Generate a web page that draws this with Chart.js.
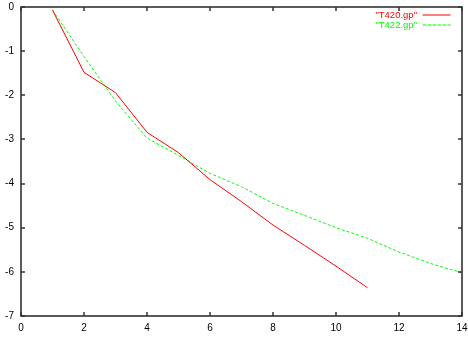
<!DOCTYPE html>
<html>
<head>
<meta charset="utf-8">
<script src="https://cdn.jsdelivr.net/npm/chart.js@4"></script>
<style>
  html, body { margin: 0; padding: 0; background: #fff; }
  #wrap { width: 468px; height: 340px; }
</style>
</head>
<body>
<div id="wrap"><canvas id="chart"></canvas></div>
<script>
const xValues = [1, 2, 3, 4, 5, 6, 7, 8, 9, 10, 11, 12, 13, 14];
const t420 = [-0.07, -1.48, -1.94, -2.84, -3.3, -3.91, -4.41, -4.94, -5.4, -5.87, -6.36];
const t422 = [-0.07, -1.12, -2.13, -2.97, -3.36, -3.77, -4.07, -4.45, -4.72, -5.0, -5.24, -5.55, -5.81, -6.02];
const seriesNames = ['"T420.gp"', '"T422.gp"'];
const xTicks = [0, 2, 4, 6, 8, 10, 12, 14];
const yTicks = [0, -1, -2, -3, -4, -5, -6, -7];

const font = { family: 'Liberation Sans', size: 10 };

function toPoints(ys) {
  return ys.map((y, i) => ({ x: xValues[i], y: y }));
}

// gnuplot look: boxed plot, small inward ticks on every side, key top right
const frame = {
  id: 'frame',
  afterDraw(chart) {
    const ctx = chart.ctx;
    const a = chart.chartArea;
    const sx = chart.scales.x, sy = chart.scales.y;
    const L = Math.round(a.left), R = Math.round(a.right);
    const T = Math.round(a.top), B = Math.round(a.bottom);
    const len = 4;
    ctx.save();
    ctx.setLineDash([]);
    ctx.strokeStyle = '#333333';
    ctx.lineWidth = 1.6;
    ctx.strokeRect(L, T, R - L, B - T);
    ctx.lineWidth = 1.5;
    ctx.beginPath();
    xTicks.forEach(v => {
      const px = Math.round(sx.getPixelForValue(v));
      ctx.moveTo(px, B); ctx.lineTo(px, B - len);
      ctx.moveTo(px, T); ctx.lineTo(px, T + len);
    });
    yTicks.forEach(v => {
      const py = Math.round(sy.getPixelForValue(v));
      ctx.moveTo(L, py); ctx.lineTo(L + len, py);
      ctx.moveTo(R, py); ctx.lineTo(R - len, py);
    });
    ctx.stroke();

    ctx.font = '9.5px "Liberation Sans"';
    ctx.textAlign = 'right';
    ctx.textBaseline = 'middle';
    chart.data.datasets.forEach((ds, i) => {
      const y = Math.round(a.top + 8 + i * 9.5);
      ctx.fillStyle = ds.borderColor;
      ctx.strokeStyle = ds.borderColor;
      ctx.lineWidth = 1;
      ctx.fillText(ds.label, R - 45, y);
      const dash = ds.borderDash || [27, 0];
      for (let x = R - 39; x < R - 12; x += dash[0] + dash[1]) {
        ctx.strokeRect(x, y, Math.min(dash[0], R - 12 - x), 0.01);
      }
    });
    ctx.restore();
  }
};

new Chart(document.getElementById('chart'), {
  type: 'line',
  data: {
    datasets: [
      { label: seriesNames[0], data: toPoints(t420), borderColor: '#ff0000', borderWidth: 1, pointRadius: 0, tension: 0, fill: false },
      { label: seriesNames[1], data: toPoints(t422), borderColor: '#00ff00', borderWidth: 1, borderDash: [3, 2], pointRadius: 0, tension: 0, fill: false }
    ]
  },
  options: {
    responsive: true,
    maintainAspectRatio: false,
    animation: false,
    layout: { padding: { left: 1, top: 7, right: 6, bottom: 1 } },
    plugins: { legend: { display: false }, tooltip: { enabled: false } },
    scales: {
      x: {
        type: 'linear', min: 0, max: 14,
        afterFit(s) { s.height = 23; s.paddingLeft = 0; s.paddingRight = 0; },
        afterBuildTicks(s) { s.ticks = xTicks.map(v => ({ value: v })); },
        grid: { display: false, drawTicks: false },
        border: { display: false },
        ticks: { color: '#000', font: font, padding: 6, maxRotation: 0, autoSkip: false }
      },
      y: {
        type: 'linear', min: -7, max: 0,
        afterFit(s) { s.width = 20; s.paddingTop = 0; s.paddingBottom = 0; },
        afterBuildTicks(s) { s.ticks = yTicks.map(v => ({ value: v })); },
        grid: { display: false, drawTicks: false },
        border: { display: false },
        ticks: { color: '#000', font: font, padding: 7, autoSkip: false }
      }
    }
  },
  plugins: [frame]
});
</script>
</body>
</html>
